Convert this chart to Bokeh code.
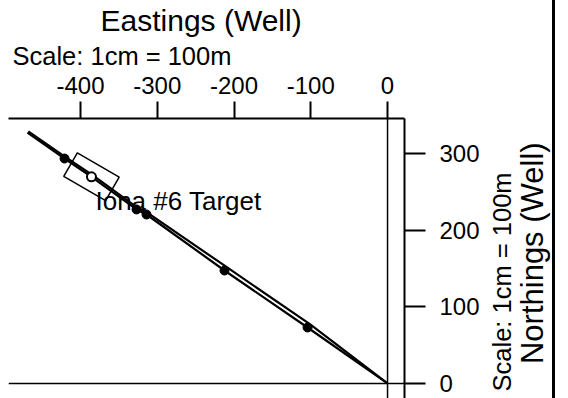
import math
from bokeh.plotting import figure
from bokeh.models import (Range1d, FixedTicker, Span, Title, LinearAxis,
                          PrintfTickFormatter, InlineStyleSheet)
from bokeh.core.properties import value
from bokeh.embed import file_html
from bokeh.resources import INLINE

FONT = "Liberation Sans"
NBSP = "\u00a0"

# ---- data (metres, Eastings / Northings relative to well) ----
x_ticks = [-400, -300, -200, -100, 0]
y_ticks = [0, 100, 200, 300]

plan_e = [0, -104.2, -212.4, -314.0, -327.0, -385.7, -420.8, -469.1]
plan_n = [0, 73.0, 147.3, 220.3, 226.9, 269.5, 293.3, 327.2]

actual_e = [0, -101.2, -209.4, -312.5, -325.5, -384.2, -419.5, -468.0]
actual_n = [0, 77.3, 151.6, 222.5, 229.1, 271.7, 295.2, 328.7]

station_e = [-104.2, -212.4, -314.0, -327.0, -420.8]
station_n = [73.0, 147.3, 220.3, 226.9, 293.3]

target_e = [-385.7]
target_n = [269.5]
target_len = [63.0]
target_wid = [35.4]
target_angle = [-0.524]
target_label = ["Iona #6 Target"]
label_e = [-380.5]
label_n = [237.3]

p = figure(frame_width=396, frame_height=280, output_backend="svg", toolbar_location=None,
           x_range=Range1d(-493.8, 22.1), y_range=Range1d(-19.6, 345.5),
           x_axis_location="above", y_axis_location="right",
           min_border_left=8, min_border_bottom=0, min_border_top=118,
           min_border_right=164)
p.outline_line_color = None
p.background_fill_color = "white"
p.border_fill_color = "white"
# page border line on the right (a rule of the scanned sheet)
p.stylesheets = [InlineStyleSheet(css=(
    ":host { position: relative; }"
    ":host::after { content: ''; position: absolute; left: 552px; top: 0px;"
    " width: 3px; height: 398px; background: black; z-index: 10; }"))]


def style_axis(ax, ticks, tick_out, standoff):
    ax.ticker = FixedTicker(ticks=ticks)
    ax.formatter = PrintfTickFormatter(format="%d")
    ax.major_tick_out = tick_out
    ax.major_tick_in = 0
    ax.minor_tick_out = 0
    ax.minor_tick_in = 0
    ax.axis_line_width = 2
    ax.axis_line_color = "black"
    ax.major_tick_line_width = 2
    ax.major_tick_line_color = "black"
    ax.major_label_text_font = FONT
    ax.major_label_text_font_size = "24px"
    ax.major_label_text_color = "black"
    ax.major_label_standoff = standoff


xa = p.xaxis[0]
style_axis(xa, x_ticks, 17, 8)

ya = p.yaxis[0]
style_axis(ya, y_ticks, 21, 14)
ya.axis_label = NBSP + "Scale: 1cm = 100m"
ya.axis_label_text_font = FONT
ya.axis_label_text_font_size = "25.5px"
ya.axis_label_text_font_style = "normal"
ya.axis_label_text_color = "black"
ya.axis_label_standoff = 19
try:
    ya.axis_label_orientation = math.pi / 2
    ya.axis_label_align = "start"
except AttributeError:
    pass

# second right axis: carries the "Northings (Well)" label only
na = LinearAxis(ticker=FixedTicker(ticks=[]), axis_line_color=None,
                major_tick_out=0, major_tick_in=0, minor_tick_out=0, minor_tick_in=0,
                major_label_standoff=0, major_label_text_font_size="0px",
                axis_label=NBSP * 4 + "Northings (Well)", axis_label_text_font=FONT,
                axis_label_text_font_size="31px", axis_label_text_font_style="normal",
                axis_label_text_color="black", axis_label_standoff=0)
try:
    na.axis_label_orientation = math.pi / 2
    na.axis_label_align = "start"
except AttributeError:
    pass
p.add_layout(na, "right")

# titles above
p.add_layout(Title(text="Scale: 1cm = 100m", align="left", offset=4, standoff=7,
                   text_font=FONT, text_font_size="25.5px", text_font_style="normal",
                   text_color="black"), "above")
p.add_layout(Title(text="Eastings (Well)", align="left", offset=92, standoff=0,
                   text_font=FONT, text_font_size="30px", text_font_style="normal",
                   text_color="black"), "above")

p.xgrid.grid_line_color = None
p.ygrid.grid_line_color = None
p.add_layout(Span(location=0, dimension="height", line_color="black", line_width=1.5))
p.add_layout(Span(location=0, dimension="width", line_color="black", line_width=1.5))

# well paths
p.line(plan_e, plan_n, line_color="black", line_width=2.2)
p.line(actual_e, actual_n, line_color="black", line_width=2.2)
p.scatter(station_e, station_n, size=9, fill_color="black", line_color="black")

# target
p.rect(x=target_e, y=target_n, width=target_len, height=target_wid, angle=target_angle,
       fill_color=None, line_color="black", line_width=1.5)
p.scatter(target_e, target_n, size=9, fill_color="white", line_color="black", line_width=2)
p.text(x=label_e, y=label_n, text=target_label, text_font=value(FONT),
       text_font_size="26px", text_color="black", text_baseline="alphabetic")

open("out.html", "w").write(file_html(p, INLINE))
